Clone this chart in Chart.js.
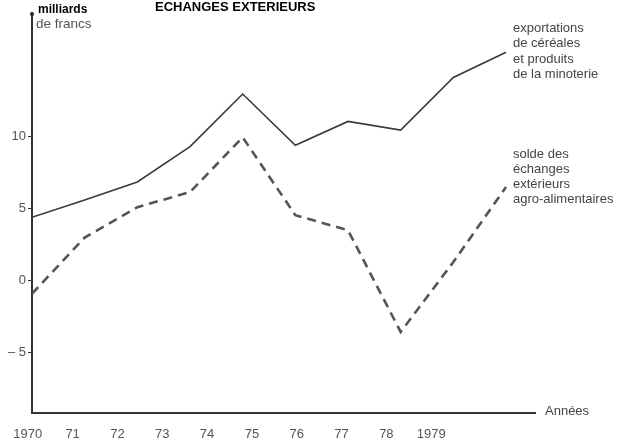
<!DOCTYPE html>
<html>
<head>
<meta charset="utf-8">
<script src="https://cdn.jsdelivr.net/npm/chart.js@4/dist/chart.umd.min.js"></script>
<style>
  html, body { margin: 0; padding: 0; background: #fff; }
  #wrap { width: 623px; height: 443px; }
</style>
</head>
<body>
<div id="wrap"><canvas id="chart" width="623" height="443"></canvas></div>
<script>
// data (milliards de francs)
const years = [1970, 1971, 1972, 1973, 1974, 1975, 1976, 1977, 1978, 1979];
const yearLabels = ["1970", "71", "72", "73", "74", "75", "76", "77", "78", "1979"];
const exportations = [4.4, 5.6, 6.85, 9.3, 12.95, 9.4, 11.05, 10.45, 14.1, 15.85];
const solde = [-0.9, 3.0, 5.1, 6.15, 9.95, 4.55, 3.5, -3.55, 1.3, 6.5];
const yTicks = [-5, 0, 5, 10];

const labelFont = "Liberation Sans, Arial, sans-serif";

// texts around the plot
const annotations = {
    id: "annotations",
    afterDraw(chart) {
        const ctx = chart.ctx;
        const area = chart.chartArea;
        ctx.save();
        ctx.textBaseline = "middle";
        ctx.textAlign = "left";

        ctx.fillStyle = "#000";
        ctx.font = "bold 12px " + labelFont;
        ctx.fillText("milliards", 38, 10);
        ctx.font = "bold 13px " + labelFont;
        ctx.fillText("ECHANGES EXTERIEURS", 155, 7);
        ctx.fillStyle = "#555";
        ctx.font = "13.5px " + labelFont;
        ctx.fillText("de francs", 36, 24);

        // axis arrow dot
        ctx.fillStyle = "#222";
        ctx.beginPath();
        ctx.arc(area.left, area.top, 2, 0, Math.PI * 2);
        ctx.fill();

        ctx.fillStyle = "#444";
        ctx.font = "13px " + labelFont;
        ["exportations", "de céréales", "et produits", "de la minoterie"]
            .forEach((t, i) => ctx.fillText(t, 513, 28 + i * 15.5));
        ["solde des", "échanges", "extérieurs", "agro-alimentaires"]
            .forEach((t, i) => ctx.fillText(t, 513, 154 + i * 15));
        ctx.fillText("Années", 545, area.bottom - 2);
        ctx.restore();
    }
};

const ctx = document.getElementById("chart").getContext("2d");
new Chart(ctx, {
    type: "line",
    data: {
        datasets: [{
            label: "exportations de céréales et produits de la minoterie",
            data: years.map((y, i) => ({ x: y, y: exportations[i] })),
            borderColor: "#3a3a3a",
            borderWidth: 1.6,
            pointRadius: 0,
            tension: 0
        }, {
            label: "solde des échanges extérieurs agro-alimentaires",
            data: years.map((y, i) => ({ x: y, y: solde[i] })),
            borderColor: "#555",
            borderWidth: 2.6,
            borderDash: [9, 6],
            pointRadius: 0,
            tension: 0
        }]
    },
    options: {
        responsive: false,
        animation: false,
        layout: { padding: { top: 14, right: 88, left: 0, bottom: 0 } },
        plugins: {
            legend: { display: false },
            tooltip: { enabled: false }
        },
        scales: {
            x: {
                type: "linear",
                min: 1970,
                max: 1979.55,
                afterBuildTicks: axis => {
                    // the printed year labels sit a little left of the data points
                    axis.ticks = yearLabels.map((t, i) => ({ value: 1969.92 + i * 0.851 }));
                },
                afterFit: axis => { axis.height = 30; },
                ticks: {
                    autoSkip: false,
                    maxRotation: 0,
                    padding: 6,
                    color: "#555",
                    font: { family: labelFont, size: 13 },
                    callback: (v, i) => yearLabels[i]
                },
                grid: { display: false },
                border: { color: "#333", width: 2 }
            },
            y: {
                min: -9.17,
                max: 18.5,
                afterBuildTicks: axis => {
                    axis.ticks = yTicks.map(v => ({ value: v }));
                },
                afterFit: axis => { axis.width = 32; },
                ticks: {
                    padding: 2,
                    color: "#555",
                    font: { family: labelFont, size: 13 },
                    callback: v => v < 0 ? "\u2013 " + Math.abs(v) : String(v)
                },
                grid: {
                    drawOnChartArea: false,
                    tickLength: 4,
                    color: "#333"
                },
                border: { color: "#333", width: 2 }
            }
        }
    },
    plugins: [annotations]
});
</script>
</body>
</html>
